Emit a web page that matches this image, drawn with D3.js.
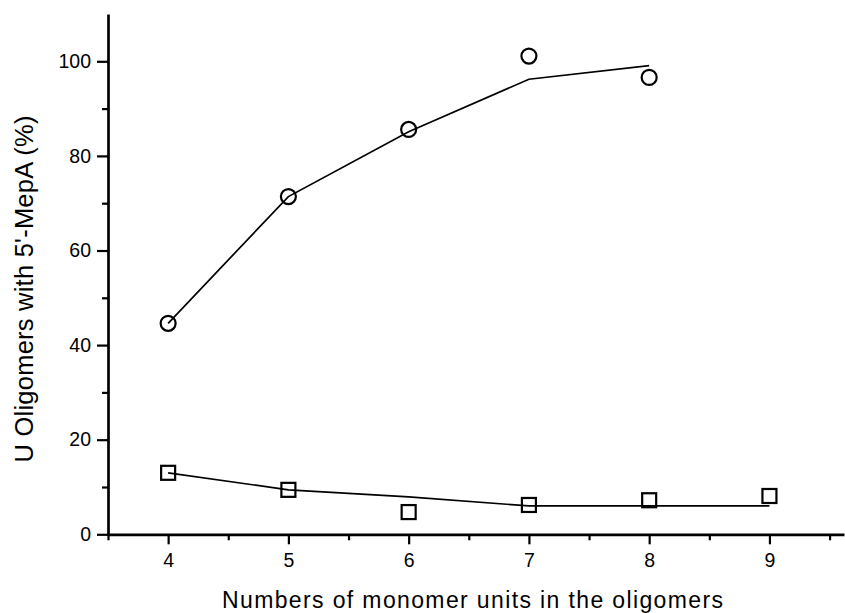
<!DOCTYPE html>
<html>
<head>
<meta charset="utf-8">
<script src="https://cdn.jsdelivr.net/npm/d3@7"></script>
<style>
  body { margin: 0; background: #fff; }
  svg text { font-family: "Liberation Sans", Arial, sans-serif; fill: #000; }
</style>
</head>
<body>
<div id="chart"></div>
<script>
// data
var units = [4, 5, 6, 7, 8, 9];
var circleVals = [44.6, 71.4, 85.6, 101.1, 96.6];
var circleFit = [44.6, 71.4, 85.1, 96.2, 99.1];
var squareVals = [13.0, 9.4, 4.7, 6.2, 7.2, 8.1];
var squareFit = [13.0, 9.4, 7.9, 6.0, 6.0, 6.0];
var xTicks = [4, 5, 6, 7, 8, 9];
var xMinor = [3.5, 4.5, 5.5, 6.5, 7.5, 8.5, 9.5];
var yTicks = [0, 20, 40, 60, 80, 100];
var yMinor = [10, 30, 50, 70, 90];

(function() {
    var W = 845, H = 613;
    var mLeft = 108, mTop = 14, mRight = 844, mBottom = 534.3;

    var svg = d3.select("#chart").append("svg")
        .attr("width", W)
        .attr("height", H);

    var x = d3.scaleLinear().domain([3.5, 9.62]).range([mLeft, mRight]),
        y = d3.scaleLinear().domain([0, 110]).range([mBottom, mTop]);

    // minor ticks first, then major axes on top
    svg.append("g")
        .attr("transform", "translate(0," + mBottom + ")")
        .call(d3.axisBottom(x).tickValues(xMinor).tickSize(6).tickFormat("").tickSizeOuter(0))
        .call(function(g) { g.select(".domain").remove(); })
        .selectAll("line").attr("stroke-width", 2.2);

    svg.append("g")
        .attr("transform", "translate(" + mLeft + ",0)")
        .call(d3.axisLeft(y).tickValues(yMinor).tickSize(6).tickFormat("").tickSizeOuter(0))
        .call(function(g) { g.select(".domain").remove(); })
        .selectAll("line").attr("stroke-width", 2.2);

    var xAxis = svg.append("g")
        .attr("transform", "translate(0," + mBottom + ")")
        .call(d3.axisBottom(x).tickValues(xTicks).tickFormat(d3.format("d"))
            .tickSize(10).tickPadding(9).tickSizeOuter(0));
    xAxis.select(".domain").attr("stroke-width", 2.7);
    xAxis.selectAll("line").attr("stroke-width", 2.2);
    xAxis.selectAll("text").style("font-size", "19.5px");

    var yAxis = svg.append("g")
        .attr("transform", "translate(" + mLeft + ",0)")
        .call(d3.axisLeft(y).tickValues(yTicks).tickFormat(d3.format("d"))
            .tickSize(11).tickPadding(6).tickSizeOuter(0));
    yAxis.select(".domain").attr("stroke-width", 2.7);
    yAxis.selectAll("line").attr("stroke-width", 2.2);
    yAxis.selectAll("text").style("font-size", "19.5px");

    // axis titles
    svg.append("text")
        .attr("x", 472.5)
        .attr("y", 608)
        .attr("text-anchor", "middle")
        .attr("textLength", 501)
        .attr("lengthAdjust", "spacing")
        .style("font-size", "23px")
        .text("Numbers of monomer units in the oligomers");

    svg.append("text")
        .attr("transform", "translate(33,289) rotate(-90)")
        .attr("text-anchor", "middle")
        .attr("textLength", 347)
        .attr("lengthAdjust", "spacing")
        .style("font-size", "25.5px")
        .text("U Oligomers with 5'-MepA (%)");

    // fitted lines
    var line = d3.line()
        .x(function(d) { return x(d[0]); })
        .y(function(d) { return y(d[1]); });

    svg.append("path")
        .datum(circleFit.map(function(v, i) { return [units[i], v]; }))
        .attr("d", line)
        .attr("fill", "none")
        .attr("stroke", "#000")
        .attr("stroke-width", 1.7);

    svg.append("path")
        .datum(squareFit.map(function(v, i) { return [units[i], v]; }))
        .attr("d", line)
        .attr("fill", "none")
        .attr("stroke", "#000")
        .attr("stroke-width", 1.7);

    // markers
    svg.selectAll("circle.pt")
        .data(circleVals)
        .enter().append("circle")
        .attr("class", "pt")
        .attr("cx", function(d, i) { return x(units[i]); })
        .attr("cy", function(d) { return y(d); })
        .attr("r", 7.5)
        .attr("fill", "none")
        .attr("stroke", "#000")
        .attr("stroke-width", 2.2);

    var sq = 14;
    svg.selectAll("rect.pt")
        .data(squareVals)
        .enter().append("rect")
        .attr("class", "pt")
        .attr("x", function(d, i) { return x(units[i]) - sq / 2; })
        .attr("y", function(d) { return y(d) - sq / 2; })
        .attr("width", sq)
        .attr("height", sq)
        .attr("fill", "none")
        .attr("stroke", "#000")
        .attr("stroke-width", 2.2);
})();
</script>
</body>
</html>
